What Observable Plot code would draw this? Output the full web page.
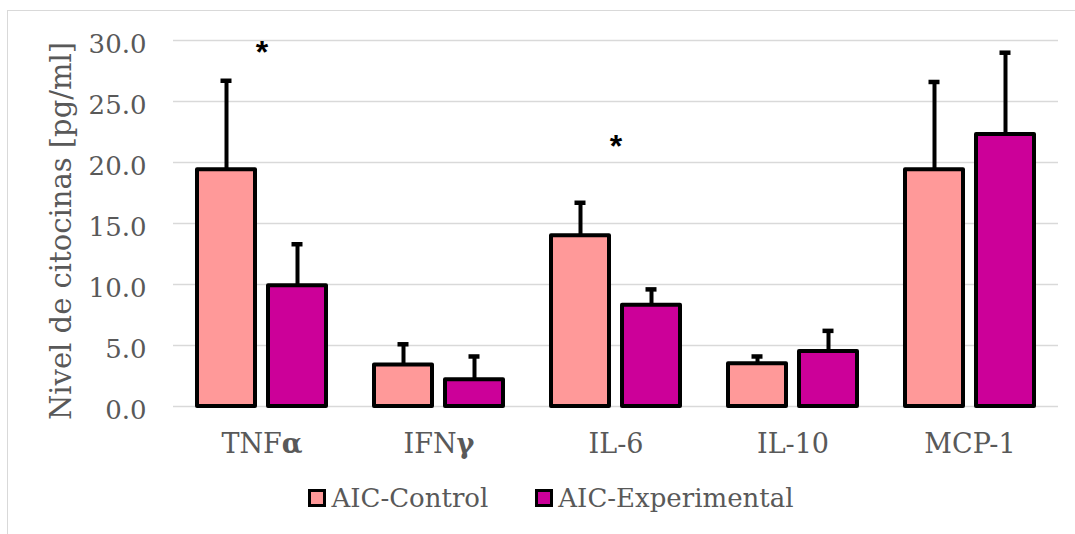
<!DOCTYPE html>
<html>
<head>
<meta charset="utf-8">
<script src="https://cdn.jsdelivr.net/npm/d3@7"></script>
<script src="https://cdn.jsdelivr.net/npm/@observablehq/plot@0.6"></script>
<style>
  html, body { margin: 0; padding: 0; background: #fff; }
  body { width: 1075px; height: 534px; position: relative; overflow: hidden; font-family: "DejaVu Serif", serif; color: #595959; }
  #frame { position: absolute; left: 7px; top: 10px; width: 1200px; height: 700px; border-left: 1.5px solid #d9d9d9; border-top: 1.5px solid #d9d9d9; }
  #chart { position: absolute; left: 0; top: 0; }
  #ytitle { position: absolute; left: 61px; top: 231px; transform: translate(-50%, -50%) rotate(-90deg); white-space: nowrap; font-size: 29px; line-height: 1; }
  #legend { position: absolute; left: 0; top: 485px; width: 1102px; height: 26px; display: flex; justify-content: center; align-items: center; font-size: 26px; line-height: 26px; }
  .item { display: flex; align-items: center; }
  .item + .item { margin-left: 47px; }
  .swatch { width: 18px; height: 18px; box-sizing: border-box; border: 3px solid #000; margin-right: 5px; }
</style>
</head>
<body>
<div id="frame"></div>
<div id="chart"></div>
<div id="ytitle">Nivel de citocinas [pg/ml]</div>
<div id="legend"></div>
<script>
// Cytokine levels (mean and standard deviation) for the two AIC groups
const cytokines = ["TNFα", "IFNγ", "IL-6", "IL-10", "MCP-1"];
const groups = ["AIC-Control", "AIC-Experimental"];
const groupColors = ["#FF9999", "#CC0099"];
const controlMean = [19.4, 3.4, 14.0, 3.5, 19.4];
const controlSd = [7.3, 1.7, 2.7, 0.6, 7.2];
const experimentalMean = [9.9, 2.2, 8.3, 4.5, 22.3];
const experimentalSd = [3.4, 1.9, 1.3, 1.7, 6.7];
const yTicks = [0, 5, 10, 15, 20, 25, 30];
// Significance markers: cytokine and the level where the asterisk sits
const sigCytokines = ["TNFα", "IL-6"];
const sigLevels = [29.0, 21.3];

const rows = cytokines.flatMap((c, i) => [
  {cytokine: c, group: groups[0], mean: controlMean[i], sd: controlSd[i]},
  {cytokine: c, group: groups[1], mean: experimentalMean[i], sd: experimentalSd[i]}
]);
const sig = sigCytokines.map((c, i) => ({cytokine: c, level: sigLevels[i]}));

const chart = Plot.plot({
  width: 1075,
  height: 470,
  marginLeft: 172,
  marginRight: 17,
  marginTop: 40,
  marginBottom: 64,
  style: {fontFamily: "'DejaVu Serif', serif", color: "#595959", background: "transparent", overflow: "visible"},
  fx: {domain: cytokines, padding: 0, label: null},
  x: {domain: groups, paddingInner: 0.18, paddingOuter: 0.32, axis: null},
  y: {domain: [0, 30], label: null},
  color: {domain: groups, range: groupColors},
  marks: [
    Plot.gridY(yTicks, {stroke: "#d9d9d9", strokeOpacity: 1, strokeWidth: 1.5}),
    Plot.axisY(yTicks, {tickSize: 0, tickPadding: 27, tickFormat: d3.format(".1f"), fontSize: 26, dy: 4, label: null}),
    Plot.axisFx({anchor: "bottom", tickSize: 0, tickPadding: 27, fontSize: 27, label: null}),
    Plot.barY(rows, {fx: "cytokine", x: "group", y: "mean", fill: "group", stroke: "#000", strokeWidth: 4, strokeLinejoin: "round"}),
    Plot.ruleX(rows, {fx: "cytokine", x: "group", y1: "mean", y2: d => d.mean + d.sd, stroke: "#000", strokeWidth: 4}),
    Plot.tickY(rows, {fx: "cytokine", x: "group", y: d => d.mean + d.sd, stroke: "#000", strokeWidth: 4.5, insetLeft: 23.5, insetRight: 23.5}),
    Plot.text(sig, {fx: "cytokine", y: "level", text: () => "*", fontSize: 32, fontWeight: "bold", fontFamily: "'Liberation Sans', sans-serif", fill: "#000"})
  ]
});
document.getElementById("chart").append(chart);

// Greek letters in the category labels are set in bold
chart.querySelectorAll('g[aria-label="fx-axis tick label"] text').forEach(t => {
  const s = t.textContent;
  t.textContent = "";
  for (const ch of s) {
    const span = document.createElementNS("http://www.w3.org/2000/svg", "tspan");
    span.textContent = ch;
    if (/[\u0370-\u03ff]/.test(ch)) span.setAttribute("font-weight", "bold");
    t.append(span);
  }
});

// Legend
const legend = document.getElementById("legend");
groups.forEach((g, i) => {
  const item = document.createElement("div");
  item.className = "item";
  const sw = document.createElement("div");
  sw.className = "swatch";
  sw.style.background = groupColors[i];
  const label = document.createElement("span");
  label.textContent = g;
  item.append(sw, label);
  legend.append(item);
});
</script>
</body>
</html>
